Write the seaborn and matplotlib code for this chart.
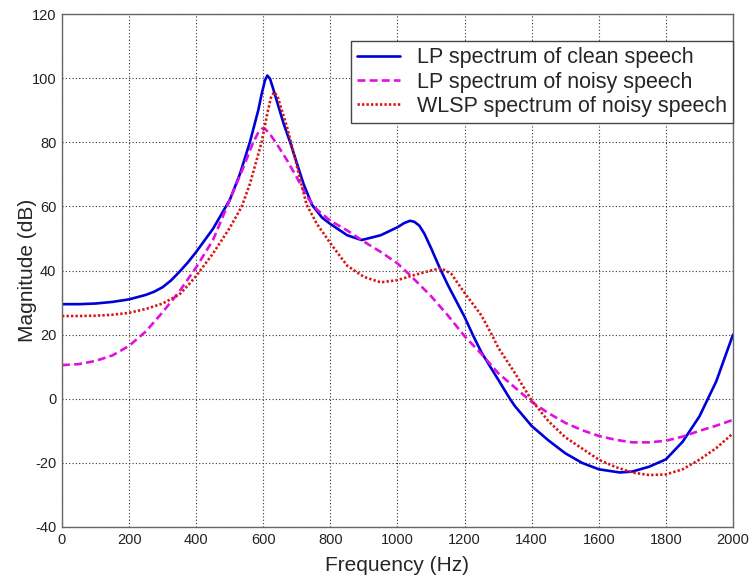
import numpy as np
import pandas as pd
import matplotlib
matplotlib.use("Agg")
import matplotlib.pyplot as plt
import seaborn as sns

# --- data ---
clean_f = [0, 50, 100, 150, 200, 250, 275, 300, 325, 350, 375, 400, 450, 500, 530, 560, 585, 595, 605, 612, 620, 630, 640,
           660, 680, 700, 720, 745, 775, 800, 850, 893, 950, 1000, 1020, 1037, 1050, 1065, 1080, 1100, 1125, 1150,
           1175, 1200, 1225, 1250, 1300, 1335, 1350, 1400, 1450, 1500, 1550, 1600, 1663, 1700, 1750, 1800, 1850,
           1900, 1950, 2000]
clean_v = [29.5, 29.5, 29.7, 30.2, 31.0, 32.4, 33.4, 34.8, 36.9, 39.6, 42.5, 45.8, 53.0, 62.0, 70.0, 80.0, 90.0, 95.0, 99.3, 100.8, 99.8, 96.5, 93.0,
           86.0, 80.0, 73.5, 67.0, 60.5, 56.5, 54.5, 51.0, 49.5, 51.0, 53.5, 54.8, 55.5, 55.2, 54.0, 51.5, 47.0, 41.0, 35.5,
           30.5, 25.5, 19.8, 14.5, 6.0, 0.0, -2.3, -8.5, -13.0, -17.0, -20.0, -22.0, -23.0, -22.7, -21.2, -18.9, -13.4,
           -5.5, 5.4, 20.0]

noisy_f = [0, 50, 100, 150, 200, 250, 300, 350, 400, 450, 476, 500, 540, 570, 585, 597, 607, 620, 640, 670, 700, 730,
           760, 800, 850, 900, 950, 1000, 1037, 1100, 1150, 1200, 1250, 1300, 1350, 1400, 1450, 1500, 1550,
           1600, 1650, 1700, 1750, 1800, 1850, 1900, 1950, 2000]
noisy_v = [10.5, 10.8, 11.8, 13.5, 16.5, 21.0, 27.0, 33.5, 41.0, 49.5, 56.0, 62.0, 72.0, 80.0, 83.0, 84.3, 84.0, 82.5, 79.5, 74.5, 69.0, 63.0,
           59.0, 55.5, 52.5, 49.0, 45.8, 42.2, 38.6, 32.0, 26.0, 19.5, 14.0, 8.0, 3.5, -1.0, -4.5, -7.5, -9.8,
           -11.6, -12.8, -13.6, -13.6, -13.1, -11.8, -10.0, -8.4, -6.6]

wlsp_f = [0, 50, 100, 150, 200, 250, 300, 350, 381, 400, 450, 500, 536, 560, 595, 612, 623, 632, 642, 655, 670, 685,
          705, 729, 760, 800, 850, 900, 950, 1000, 1050, 1100, 1130, 1160, 1200, 1250, 1281, 1300, 1350, 1400,
          1450, 1500, 1550, 1600, 1650, 1700, 1750, 1800, 1850, 1900, 1950, 2000]
wlsp_v = [25.8, 25.8, 25.9, 26.2, 26.8, 28.0, 29.7, 32.5, 36.0, 38.3, 45.3, 53.3, 60.0, 67.0, 80.0, 89.0, 94.0, 95.6, 94.5, 90.0, 85.0, 79.0,
          70.5, 60.5, 54.5, 48.5, 41.5, 38.0, 36.3, 37.0, 38.6, 40.0, 40.7, 39.0, 33.0, 26.0, 20.0, 16.0, 8.0, -0.5,
          -7.0, -12.0, -15.5, -19.0, -21.3, -23.0, -23.8, -23.6, -22.0, -19.0, -15.4, -10.8]

labels = ["LP spectrum of clean speech", "LP spectrum of noisy speech", "WLSP spectrum of noisy speech"]
x_ticks = [0, 200, 400, 600, 800, 1000, 1200, 1400, 1600, 1800, 2000]
y_ticks = [-40, -20, 0, 20, 40, 60, 80, 100, 120]

sns.set_style("white")
plt.rcParams['font.family'] = ['Liberation Sans', 'DejaVu Sans']
plt.rcParams['axes.unicode_minus'] = False

fig = plt.figure(figsize=(7.51, 5.83), dpi=100)
ax = fig.add_axes([62/751, 1-527/583, (733-62)/751, (527-14)/583])

sns.lineplot(x=clean_f, y=clean_v, ax=ax, color="#0000d8", linewidth=1.9, label=labels[0], sort=False)
sns.lineplot(x=noisy_f, y=noisy_v, ax=ax, color="#e010e0", linewidth=1.9, label=labels[1], sort=False)
sns.lineplot(x=wlsp_f, y=wlsp_v, ax=ax, color="#d81818", linewidth=1.9, label=labels[2], sort=False)
ax.lines[1].set_dashes([3, 1.6])
ax.lines[2].set_linestyle((0, (0.9, 0.8)))

ax.set_xlim(0, 2000)
ax.set_ylim(-40, 120)
ax.set_xticks(x_ticks)
ax.set_yticks(y_ticks)
ax.tick_params(direction="in", length=4, labelsize=10.5, colors="#222222", width=0.8, pad=4)
ax.grid(True, linestyle=(0, (1, 2)), color="#333333", linewidth=0.8)
for s in ax.spines.values():
    s.set_color("#666666")
    s.set_linewidth(1.0)
ax.set_xlabel("Frequency (Hz)", fontsize=15, labelpad=7)
ax.set_ylabel("Magnitude (dB)", fontsize=15, labelpad=-4)

leg = ax.legend(loc="upper right", bbox_to_anchor=(1.0, 1 - 27/513), fontsize=15.5,
                frameon=True, fancybox=False, handlelength=2.0, borderpad=0.3,
                labelspacing=0.15, handletextpad=0.75, borderaxespad=0)
leg.get_frame().set_edgecolor("#444444")
leg.get_frame().set_linewidth(1.0)
leg.get_frame().set_alpha(1.0)
for h in leg.get_lines():
    h.set_linewidth(1.9)

fig.savefig("out.png", dpi=100)
